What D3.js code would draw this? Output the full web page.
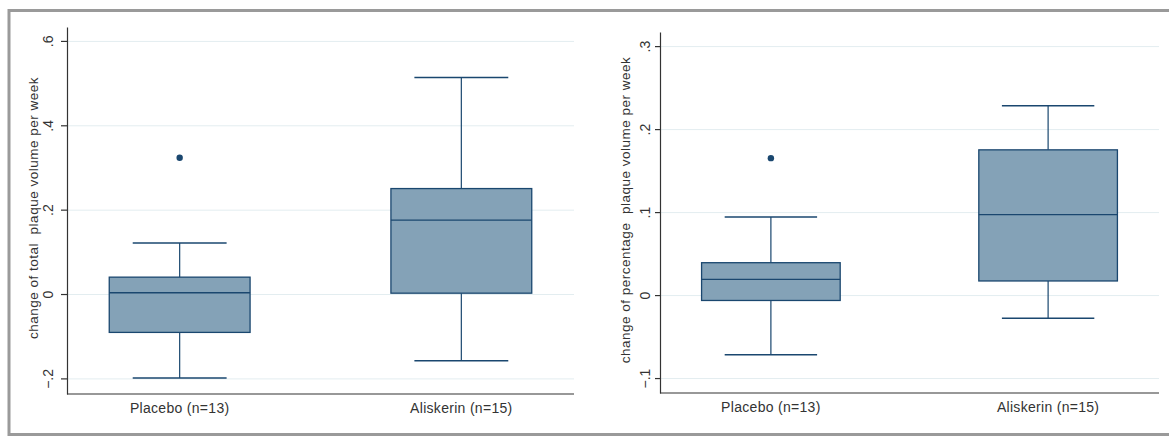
<!DOCTYPE html>
<html>
<head>
<meta charset="utf-8">
<script src="https://cdn.jsdelivr.net/npm/d3@7"></script>
<style>
  body { margin: 0; background: #fff; }
  svg { display: block; font-family: "Liberation Sans", Arial, sans-serif; }
  .tick text { font-size: 14px; fill: #333; }
  .gridlines line { stroke: #e3edf0; }
  .gridlines .domain { stroke: none; }
  .axis .domain, .axis line { stroke: #333; stroke-width: 1.2; }
  .xlabel { font-size: 14px; fill: #333; letter-spacing: 0.3px; }
  .ylabel { font-size: 13.5px; fill: #333; letter-spacing: 0.5px; }
</style>
</head>
<body>
<svg id="chart" width="1169" height="436"></svg>
<script>
  const svg = d3.select("svg#chart");

  // categories
  const groups = ["Placebo (n=13)", "Aliskerin (n=15)"];

  // left panel: change of total plaque volume per week
  const totalLow    = [-0.199, -0.158];
  const totalQ1     = [-0.091,  0.002];
  const totalMedian = [ 0.003,  0.175];
  const totalQ3     = [ 0.040,  0.250];
  const totalHigh   = [ 0.121,  0.513];
  const totalOutliers = [[0.323], []];
  const totalTicks  = [-0.2, 0, 0.2, 0.4, 0.6];

  // right panel: change of percentage plaque volume per week
  const pctLow    = [-0.072, -0.028];
  const pctQ1     = [-0.0065, 0.017];
  const pctMedian = [ 0.019,  0.097];
  const pctQ3     = [ 0.039,  0.175];
  const pctHigh   = [ 0.094,  0.228];
  const pctOutliers = [[0.165], []];
  const pctTicks  = [-0.1, 0, 0.1, 0.2, 0.3];

  const fillColor = "#84a2b7";
  const lineColor = "#1a476f";

  // outer frame
  svg.append("rect")
    .attr("x", 9).attr("y", 10.5)
    .attr("width", 1175).attr("height", 424)
    .attr("fill", "none")
    .attr("stroke", "#9a9a9a")
    .attr("stroke-width", 3);

  function fmt(v) {
    if (v === 0) return "0";
    return d3.format(".1f")(v).replace("0.", ".");
  }

  function drawPanel(p) {
    const stats = groups.map((g, i) => ({
      group: g, low: p.low[i], q1: p.q1[i], median: p.median[i],
      q3: p.q3[i], high: p.high[i], outliers: p.outliers[i]
    }));

    const x = d3.scalePoint().domain(groups).range([p.left, p.right]).padding(0.4);
    const y = d3.scaleLinear().domain(p.domain).range([p.bottom, p.top]);
    const step = x.step();
    const boxW = step * 0.5;
    const capW = step / 3;

    // gridlines
    svg.append("g")
      .attr("class", "gridlines")
      .attr("transform", "translate(" + p.left + ",0)")
      .call(d3.axisLeft(y).tickValues(p.ticks).tickSize(-(p.right - p.left)).tickFormat(""));

    // y axis
    const yAxis = svg.append("g")
      .attr("class", "axis")
      .attr("transform", "translate(" + p.left + ",0)")
      .call(d3.axisLeft(y).tickValues(p.ticks).tickSize(p.tickSize).tickSizeOuter(0).tickFormat(fmt));
    yAxis.selectAll(".tick text")
      .attr("x", null).attr("dy", null)
      .attr("text-anchor", "middle")
      .attr("dominant-baseline", "central")
      .attr("transform", "translate(" + (-p.labelGap) + ",0) rotate(-90)");

    // x axis line
    svg.append("line")
      .attr("x1", p.left).attr("x2", p.right)
      .attr("y1", p.bottom).attr("y2", p.bottom)
      .attr("stroke", "#333").attr("stroke-width", 1.2);

    // x labels
    svg.selectAll(null).data(groups).join("text")
      .attr("class", "xlabel")
      .attr("x", d => x(d))
      .attr("y", p.bottom + 19)
      .attr("text-anchor", "middle")
      .text(d => d);

    // y title
    svg.append("text")
      .attr("class", "ylabel")
      .attr("text-anchor", "middle")
      .attr("dominant-baseline", "central")
      .attr("transform", "translate(" + p.titleX + "," + p.titleY + ") rotate(-90)")
      .text(p.title);

    const box = svg.append("g").selectAll("g").data(stats).join("g");

    // whiskers
    box.append("line")
      .attr("x1", d => x(d.group)).attr("x2", d => x(d.group))
      .attr("y1", d => y(d.high)).attr("y2", d => y(d.q3))
      .attr("stroke", lineColor).attr("stroke-width", 1.2);
    box.append("line")
      .attr("x1", d => x(d.group)).attr("x2", d => x(d.group))
      .attr("y1", d => y(d.q1)).attr("y2", d => y(d.low))
      .attr("stroke", lineColor).attr("stroke-width", 1.2);
    box.append("line")
      .attr("x1", d => x(d.group) - capW / 2).attr("x2", d => x(d.group) + capW / 2)
      .attr("y1", d => y(d.high)).attr("y2", d => y(d.high))
      .attr("stroke", lineColor).attr("stroke-width", 1.5);
    box.append("line")
      .attr("x1", d => x(d.group) - capW / 2).attr("x2", d => x(d.group) + capW / 2)
      .attr("y1", d => y(d.low)).attr("y2", d => y(d.low))
      .attr("stroke", lineColor).attr("stroke-width", 1.5);

    // boxes
    box.append("rect")
      .attr("x", d => x(d.group) - boxW / 2)
      .attr("y", d => y(d.q3))
      .attr("width", boxW)
      .attr("height", d => y(d.q1) - y(d.q3))
      .attr("fill", fillColor)
      .attr("stroke", lineColor).attr("stroke-width", 1.3);
    box.append("line")
      .attr("x1", d => x(d.group) - boxW / 2).attr("x2", d => x(d.group) + boxW / 2)
      .attr("y1", d => y(d.median)).attr("y2", d => y(d.median))
      .attr("stroke", lineColor).attr("stroke-width", 1.3);

    // outliers
    box.selectAll("circle").data(d => d.outliers.map(v => ({group: d.group, v: v})))
      .join("circle")
      .attr("cx", d => x(d.group))
      .attr("cy", d => y(d.v))
      .attr("r", 3.2)
      .attr("fill", lineColor);
  }

  drawPanel({
    left: 67, right: 574, top: 27, bottom: 394,
    domain: [-0.237, 0.633], ticks: totalTicks, tickSize: 6, labelGap: 19,
    low: totalLow, q1: totalQ1, median: totalMedian, q3: totalQ3, high: totalHigh, outliers: totalOutliers,
    title: "change of total\u00a0 plaque volume per week", titleX: 33, titleY: 208
  });

  drawPanel({
    left: 660, right: 1159, top: 32, bottom: 393,
    domain: [-0.118, 0.317], ticks: pctTicks, tickSize: 5, labelGap: 15,
    low: pctLow, q1: pctQ1, median: pctMedian, q3: pctQ3, high: pctHigh, outliers: pctOutliers,
    title: "change of percentage\u00a0 plaque volume per week", titleX: 625, titleY: 210
  });
</script>
</body>
</html>
